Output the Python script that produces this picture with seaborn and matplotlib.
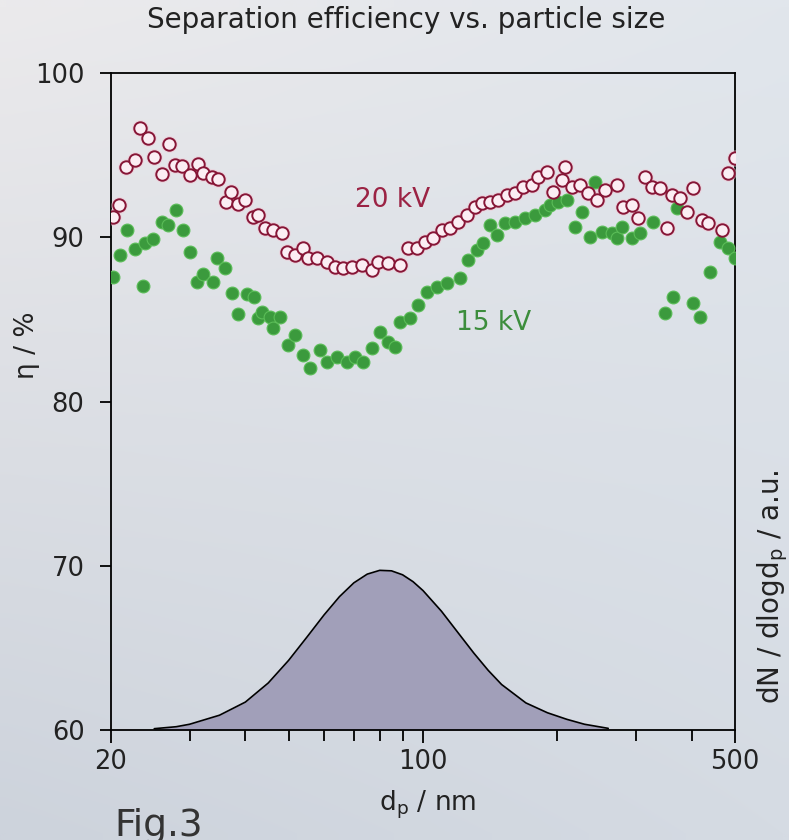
import numpy as np
import seaborn as sns
import matplotlib.pyplot as plt
from matplotlib.ticker import FixedLocator, NullFormatter
from matplotlib.colors import to_rgb

# --- data ---
x20 = [20.2, 20.8, 21.6, 22.6, 23.2, 24.2, 25.0, 26.0, 27.0, 27.8, 28.8, 30.1, 31.4, 32.2, 33.6, 34.8,
       36.2, 37.2, 38.5, 39.9, 41.7, 42.8, 44.3, 46.2, 48.3, 49.5, 51.7, 53.9, 55.3, 57.8, 60.8, 63.5,
       66.3, 69.2, 72.9, 76.7, 79.4, 83.6, 88.8, 92.7, 96.8, 101.0, 105.4, 110.1, 114.9, 120.0, 125.3,
       130.8, 135.4, 141.3, 147.5, 154.0, 160.7, 167.8, 175.2, 181.3, 189.3, 195.8, 204.4, 208.0, 215.3,
       224.7, 234.6, 245.0, 255.8, 271.6, 281.1, 293.5, 303.6, 314.3, 325.3, 339.6, 351.5, 360.7, 376.5,
       389.8, 403.2, 421.0, 435.6, 466.7, 482.9, 499.9]
y20 = [91.25, 91.96, 94.30, 94.70, 96.67, 96.02, 94.90, 93.83, 95.66, 94.40, 94.34, 93.79, 94.44, 93.89,
       93.69, 93.55, 92.16, 92.77, 92.01, 92.27, 91.25, 91.35, 90.54, 90.44, 90.24, 89.12, 88.92, 89.33,
       88.72, 88.72, 88.51, 88.21, 88.11, 88.21, 88.31, 88.01, 88.51, 88.41, 88.31, 89.33, 89.33, 89.73,
       89.94, 90.44, 90.54, 90.95, 91.35, 91.86, 92.07, 92.16, 92.27, 92.57, 92.68, 93.08, 93.18, 93.69,
       93.99, 92.77, 93.49, 94.30, 93.08, 93.18, 92.68, 92.27, 92.88, 93.18, 91.86, 91.96, 91.15, 93.69,
       93.08, 92.98, 90.54, 92.57, 92.37, 91.56, 92.98, 91.05, 90.85, 90.44, 93.89, 94.81]

x15 = [20.2, 20.9, 21.7, 22.6, 23.6, 23.8, 24.9, 26.0, 26.9, 28.0, 29.0, 30.1, 31.1, 32.2, 33.9, 34.5,
       36.0, 37.3, 38.6, 40.3, 41.8, 42.8, 43.5, 45.4, 46.2, 47.8, 49.9, 51.7, 53.9, 55.8, 58.8, 60.8,
       64.1, 67.5, 70.4, 73.5, 76.7, 80.1, 83.6, 86.5, 88.8, 93.5, 97.6, 101.9, 107.3, 113.0, 121.0,
       126.3, 131.9, 136.5, 141.3, 146.2, 152.7, 160.7, 169.2, 178.2, 187.6, 192.5, 200.9, 209.8, 219.0,
       226.7, 236.7, 242.9, 251.4, 264.7, 271.6, 278.6, 293.5, 306.2, 328.0, 348.5, 363.8, 370.2, 403.2,
       417.4, 439.6, 462.4, 482.9, 499.9]
y15 = [87.60, 88.92, 90.44, 89.28, 87.03, 89.63, 89.89, 90.91, 90.75, 91.66, 90.44, 89.08, 87.29, 87.74,
       87.29, 88.72, 88.15, 86.59, 85.31, 86.53, 86.38, 85.07, 85.47, 85.16, 84.46, 85.16, 83.44, 84.05,
       82.83, 82.04, 83.14, 82.42, 82.73, 82.42, 82.73, 82.42, 83.24, 84.25, 83.64, 83.34, 84.86, 85.07,
       85.88, 86.68, 86.99, 87.20, 87.50, 88.61, 89.22, 89.63, 90.75, 90.14, 90.85, 90.95, 91.15, 91.35,
       91.66, 91.96, 92.16, 92.27, 90.64, 91.56, 90.03, 93.38, 90.34, 90.24, 89.94, 90.64, 89.94, 90.24,
       90.95, 85.37, 86.38, 91.76, 85.98, 85.16, 87.90, 89.73, 89.33, 88.72]

# size distribution (arbitrary units, drawn on the eta scale)
dist_x = [25, 28, 30, 35, 40, 45, 50, 55, 60, 65, 70, 75, 80, 85, 90, 95, 100, 110, 120, 130, 140, 150,
          170, 190, 210, 230, 260]
dist_y = [60.08, 60.2, 60.35, 60.9, 61.7, 62.86, 64.24, 65.67, 67.0, 68.12, 68.96, 69.49, 69.72, 69.69,
          69.45, 69.03, 68.49, 67.23, 65.9, 64.68, 63.63, 62.77, 61.65, 61.05, 60.65, 60.35, 60.1]

x_major = [20, 100, 500]
x_minor = [30, 40, 50, 60, 70, 80, 90, 200, 300, 400]
y_ticks = [60, 70, 80, 90, 100]

sns.set_style('ticks')
plt.rcParams['font.family'] = ['DejaVu Sans']
plt.rcParams['mathtext.default'] = 'regular'

fig = plt.figure(figsize=(7.89, 8.4), dpi=100)

# sky-ish background
bg = fig.add_axes([0, 0, 1, 1], zorder=-10)
tl, tr = np.array(to_rgb('#ebeaec')), np.array(to_rgb('#e1e6ec'))
bl, br = np.array(to_rgb('#cdd3dc')), np.array(to_rgb('#d5dbe3'))
u = np.linspace(0, 1, 64)[None, :, None]
v = np.linspace(0, 1, 64)[:, None, None]
img = (1 - v) * ((1 - u) * tl + u * tr) + v * ((1 - u) * bl + u * br)
bg.imshow(img, aspect='auto', extent=[0, 1, 0, 1], interpolation='bilinear')
bg.axis('off')

ax = fig.add_axes([111 / 789, 1 - 730 / 840, (735 - 111) / 789, (730 - 73) / 840])
ax.set_facecolor('none')

ax.fill_between(dist_x, dist_y, 60, color='#a19fb9', zorder=1, lw=0)
sns.lineplot(x=dist_x, y=dist_y, color='black', lw=1.2, ax=ax, zorder=2)

sns.scatterplot(x=x20, y=y20, s=140, color='#f3c3d1', alpha=0.55, linewidth=0, ax=ax, zorder=3)
sns.scatterplot(x=x20, y=y20, s=80, color='#fbedf3', edgecolor='#861536', linewidth=1.4, ax=ax, zorder=4)
sns.scatterplot(x=x15, y=y15, s=85, color='#3b9a3d', edgecolor='#5bbd58', linewidth=0.8, ax=ax, zorder=3)

ax.set_xscale('log')
ax.set_xlim(20, 500)
ax.set_ylim(60, 100)
ax.xaxis.set_major_locator(FixedLocator(x_major))
ax.set_xticklabels([str(v) for v in x_major])
ax.xaxis.set_minor_locator(FixedLocator(x_minor))
ax.xaxis.set_minor_formatter(NullFormatter())
ax.yaxis.set_major_locator(FixedLocator(y_ticks))
ax.set_yticklabels([str(v) for v in y_ticks])
ax.yaxis.set_minor_locator(FixedLocator([]))
ax.tick_params(which='both', direction='out', width=1.3, color='black', labelsize=18.5,
               labelcolor='#222222')
ax.tick_params(axis='x', which='major', length=9, pad=5)
ax.tick_params(axis='x', which='minor', length=8)
ax.tick_params(axis='y', which='major', length=8, pad=11)
for sp in ax.spines.values():
    sp.set_linewidth(1.3)
    sp.set_color('black')
ax.set_xlabel('')
ax.set_ylabel('')

ax.text(85.6, 92.27, '20 kV', color='#9b2344', fontsize=19, ha='center', va='center', zorder=5)
ax.text(144, 84.78, '15 kV', color='#3c8d3c', fontsize=19, ha='center', va='center', zorder=5)

fig.text(406 / 789, 1 - 20 / 840, 'Separation efficiency vs. particle size', ha='center', va='center',
         fontsize=20, color='#222222')
fig.text(27 / 789, 1 - 345 / 840, 'η / %', rotation=90, ha='center', va='center', fontsize=19,
         color='#222222')
fig.text(773 / 789, 1 - 587 / 840, 'dN / dlogd$_{p}$ / a.u.', rotation=90, ha='center',
         va='center', fontsize=20, color='#222222')
fig.text(428 / 789, 1 - 805 / 840, 'd$_{p}$ / nm', ha='center', va='center', fontsize=19,
         color='#222222')
fig.text(114 / 789, 1 - 836 / 840, 'Fig.3', ha='left', va='baseline', fontsize=27, color='#333333')

fig.savefig('out.png', dpi=100)
